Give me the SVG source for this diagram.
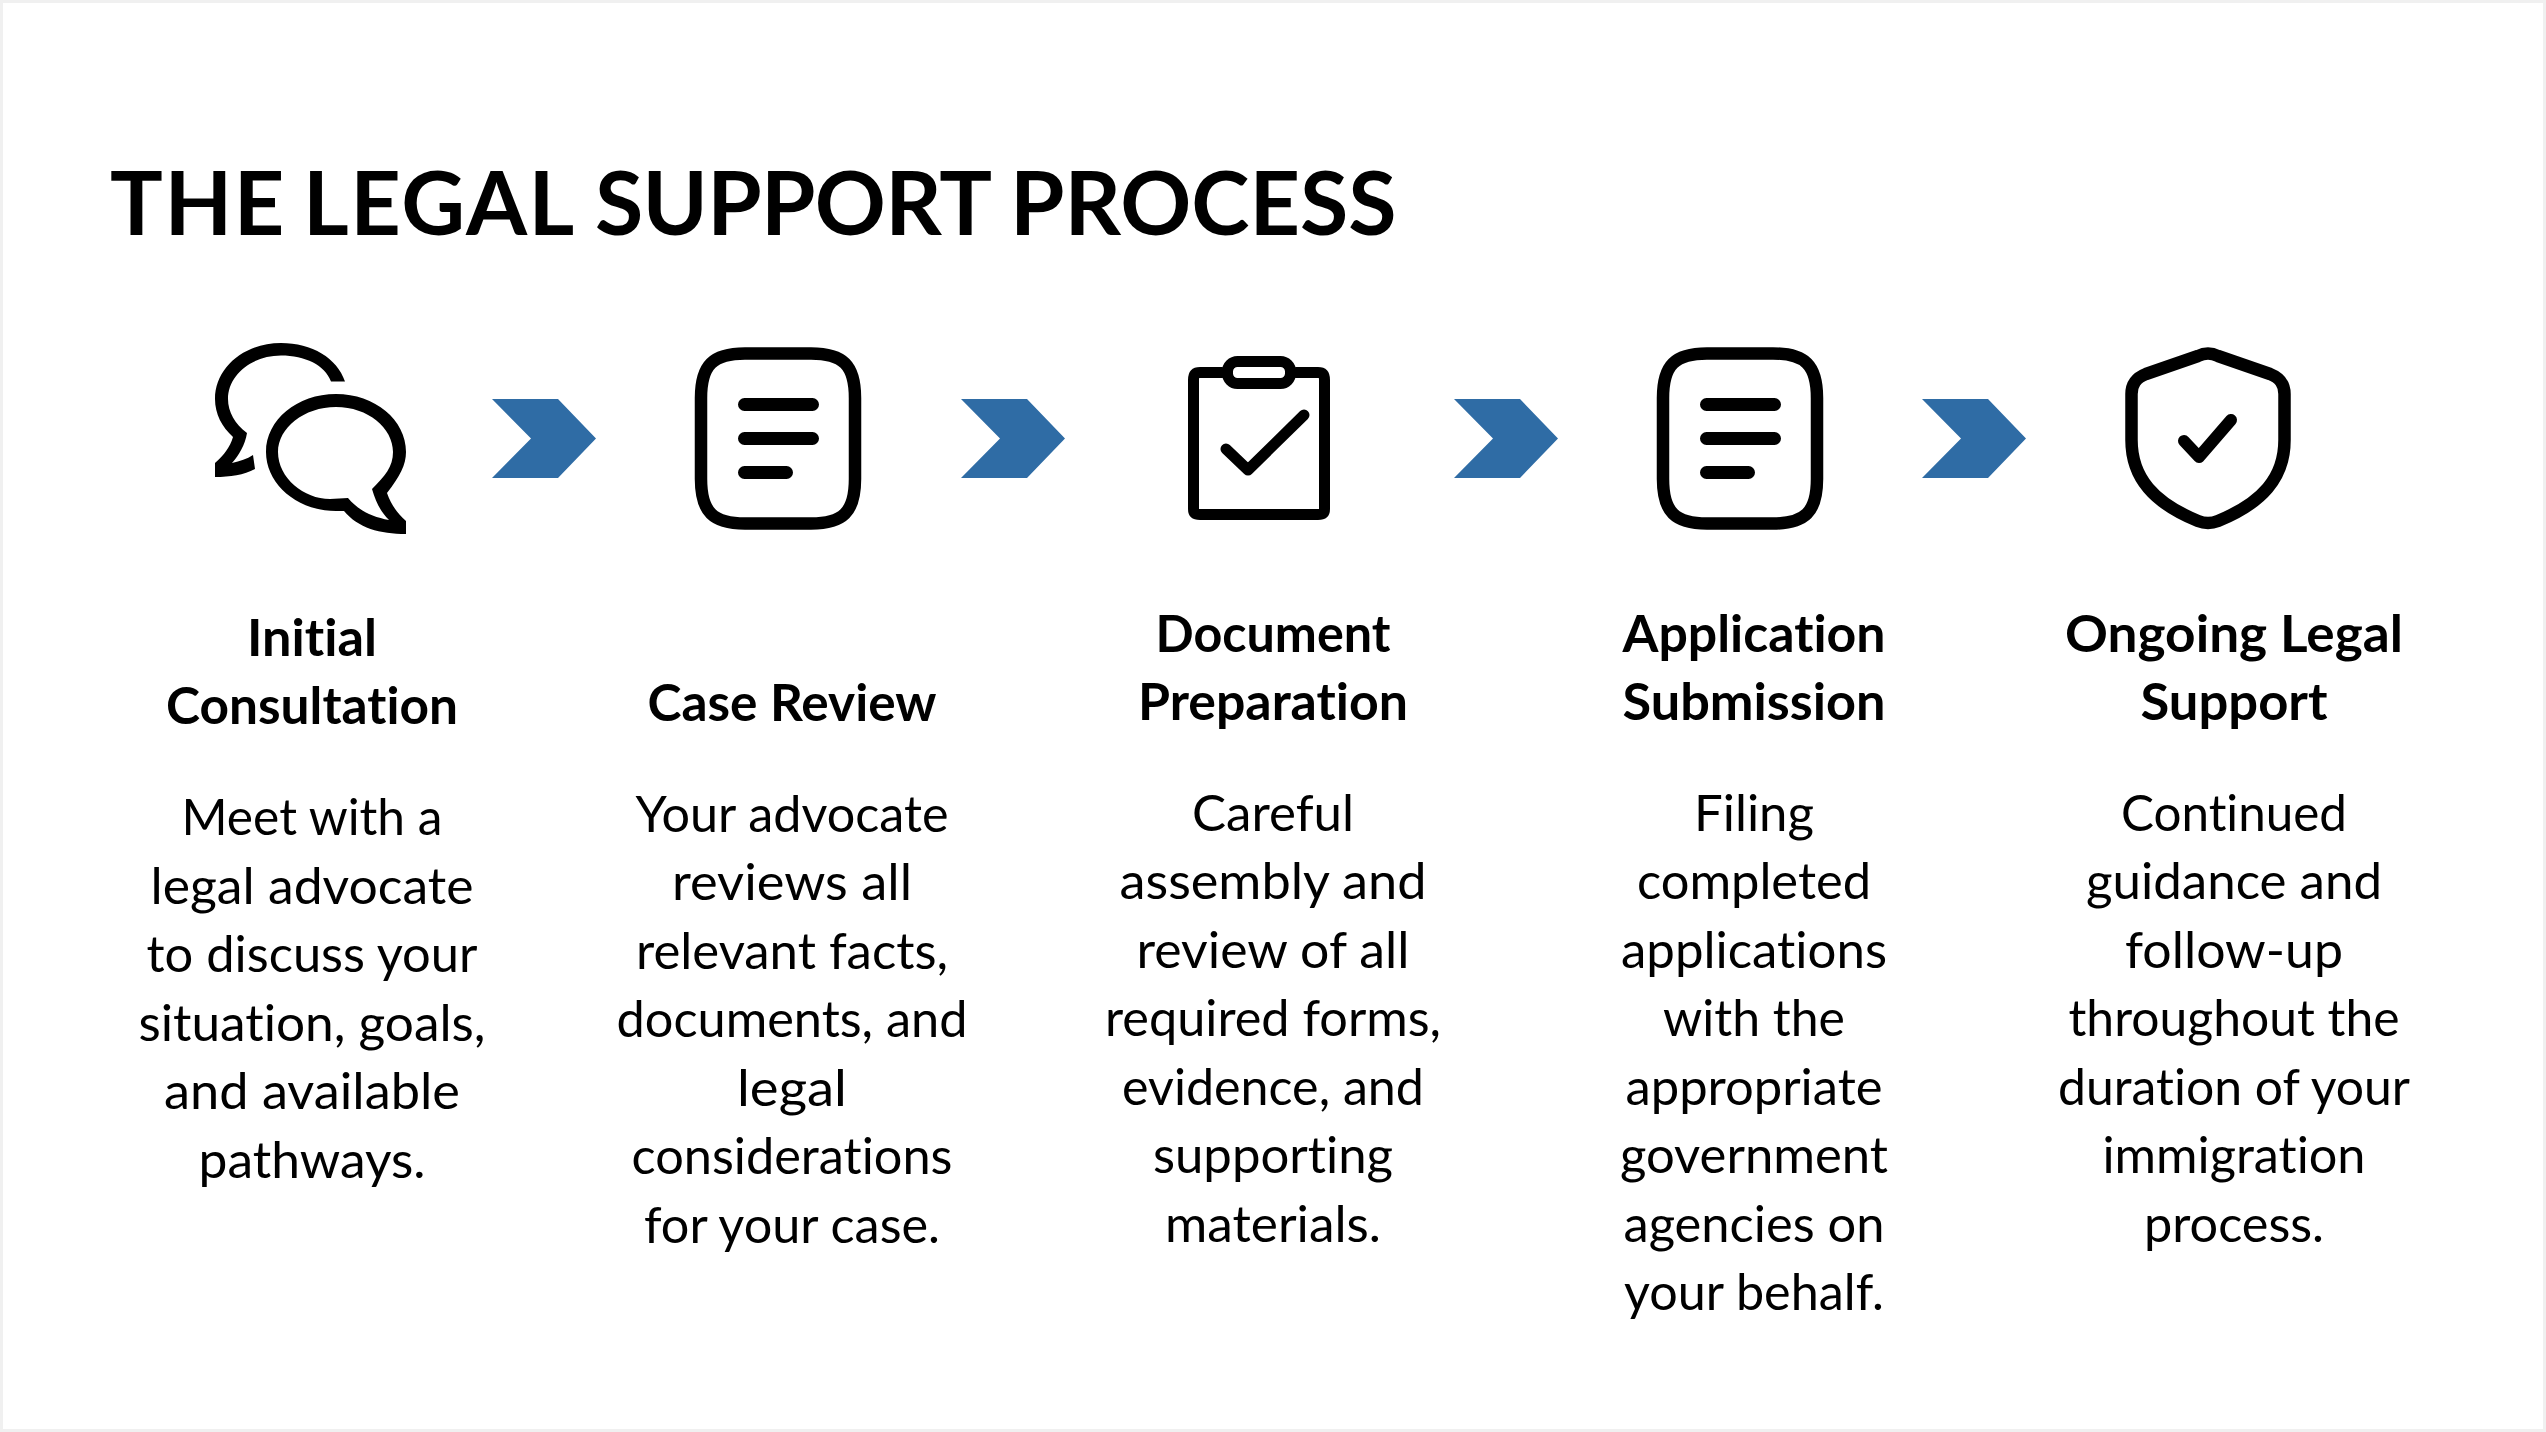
<svg xmlns="http://www.w3.org/2000/svg" width="2546" height="1432" viewBox="0 0 2546 1432">
<style>
text{font-family:"Lato","Liberation Sans",sans-serif;fill:#000;text-anchor:middle;font-variant-ligatures:none}
.t{font-size:88px;font-weight:700;text-anchor:start}
.h{font-size:51px;font-weight:700;transform:translateY(1px)}
.b{font-size:50px;font-weight:400;transform:translateY(1px)}
.c{fill:#2f6ca5}
.k{fill:none;stroke:#000;stroke-linecap:round;stroke-linejoin:round}
</style>
<defs>
<polygon id="chev" class="c" points="0,0 66,0 104,39.5 66,79 0,79 39,39.5"/>
<g id="note">
<path class="k" stroke-width="12.5" d="M745,353.5H811C843,353.5 855,365 855,398V479C855,512 843,523.5 811,523.5H745C713,523.5 701,512 701,479V398C701,365 713,353.5 745,353.5Z"/>
<path class="k" stroke-width="13" d="M744.500,404.500H812.500M744.500,438.500H812.500M744.500,472.500H786.500"/>
</g>
</defs>
<rect width="2546" height="1432" fill="#f0f0f0"/>
<rect x="3" y="3" width="2540" height="1426" fill="#fff"/>
<text class="t" y="234.500"><tspan x="110" letter-spacing="1.600" word-spacing="-6">THE LEGAL</tspan> <tspan x="595" letter-spacing="-0.700">SUPPORT</tspan> <tspan x="1010">PROCESS</tspan></text>
<g id="connectors">
<use href="#chev" x="492" y="399"/>
<use href="#chev" x="961" y="399"/>
<use href="#chev" x="1454" y="399"/>
<use href="#chev" x="1922" y="399"/>
</g>
<g id="step1">
<path fill="#000" fill-rule="evenodd" d="M387,493C400,476 406,465 406,452C406,420 375,394 336,394C297,394 266,420 266,452C266,484 297,511 336,511L344,511C358,528 380,534 406,534V521C396,512 391,504 387,493ZM372,489C385,476 393,467 393,452C393,428 368,407 336,407C304,407 278,428 278,452C278,478 304,499 330,499L348,498C358,510 372,517 389,520C381,512 376,503 372,489Z"/>
<path fill="#000" d="M345,381.500C337,358 312,343 281,343C244,343 215,368 215,399C215,414 222,427 233,437C230,447 224,455 215,463V477C230,477 244,475 255,469L253,455C247,459 240,461 232,463C239,455 245,445 247,433C235,424 228,412 228,399C228,375 252,355.500 281,355.500C305,355.500 325,365 331,381.500Z"/>
<text class="h" x="312" y="655" textLength="130" lengthAdjust="spacingAndGlyphs">Initial</text>
<text class="h" x="312" y="723" textLength="292" lengthAdjust="spacingAndGlyphs">Consultation</text>
<text class="b" x="312" y="834" textLength="261" lengthAdjust="spacingAndGlyphs">Meet with a</text>
<text class="b" x="312" y="903" textLength="323" lengthAdjust="spacingAndGlyphs">legal advocate</text>
<text class="b" x="312" y="971" textLength="331" lengthAdjust="spacingAndGlyphs">to discuss your</text>
<text class="b" x="312" y="1040" textLength="347" lengthAdjust="spacingAndGlyphs">situation, goals,</text>
<text class="b" x="312" y="1108" textLength="296" lengthAdjust="spacingAndGlyphs">and available</text>
<text class="b" x="312" y="1177" textLength="227" lengthAdjust="spacingAndGlyphs">pathways.</text>
</g>
<g id="step2">
<use href="#note"/>
<text class="h" x="792" y="720" textLength="289" lengthAdjust="spacingAndGlyphs">Case Review</text>
<text class="b" x="792" y="831" textLength="313" lengthAdjust="spacingAndGlyphs">Your advocate</text>
<text class="b" x="792" y="899" textLength="240" lengthAdjust="spacingAndGlyphs">reviews all</text>
<text class="b" x="792" y="968" textLength="312" lengthAdjust="spacingAndGlyphs">relevant facts,</text>
<text class="b" x="792" y="1036" textLength="351" lengthAdjust="spacingAndGlyphs">documents, and</text>
<text class="b" x="792" y="1105" textLength="110" lengthAdjust="spacingAndGlyphs">legal</text>
<text class="b" x="792" y="1173" textLength="321" lengthAdjust="spacingAndGlyphs">considerations</text>
<text class="b" x="792" y="1242" textLength="296" lengthAdjust="spacingAndGlyphs">for your case.</text>
</g>
<g id="step3">
<path class="k" stroke-width="11" d="M1222,372.500H1200C1195,372.500 1193.500,375 1193.500,380V509C1193.500,513 1195,514.500 1200,514.500H1318C1323,514.500 1324.500,513 1324.500,509V380C1324.500,375 1323,372.500 1318,372.500H1296"/>
<rect x="1227.500" y="361.500" width="63" height="22" rx="10" fill="#fff" stroke="#000" stroke-width="11"/>
<path class="k" stroke-width="11" d="M1226,449L1248,470L1304,415"/>
<text class="h" x="1273" y="651" textLength="235" lengthAdjust="spacingAndGlyphs">Document</text>
<text class="h" x="1273" y="719" textLength="270" lengthAdjust="spacingAndGlyphs">Preparation</text>
<text class="b" x="1273" y="830" textLength="162" lengthAdjust="spacingAndGlyphs">Careful</text>
<text class="b" x="1273" y="898" textLength="307" lengthAdjust="spacingAndGlyphs">assembly and</text>
<text class="b" x="1273" y="967" textLength="273" lengthAdjust="spacingAndGlyphs">review of all</text>
<text class="b" x="1273" y="1035" textLength="336" lengthAdjust="spacingAndGlyphs">required forms,</text>
<text class="b" x="1273" y="1104" textLength="302" lengthAdjust="spacingAndGlyphs">evidence, and</text>
<text class="b" x="1273" y="1172" textLength="240" lengthAdjust="spacingAndGlyphs">supporting</text>
<text class="b" x="1273" y="1241" textLength="216" lengthAdjust="spacingAndGlyphs">materials.</text>
</g>
<g id="step4">
<use href="#note" x="962"/>
<text class="h" x="1754" y="651" textLength="263" lengthAdjust="spacingAndGlyphs">Application</text>
<text class="h" x="1754" y="719" textLength="263" lengthAdjust="spacingAndGlyphs">Submission</text>
<text class="b" x="1754" y="830" textLength="120" lengthAdjust="spacingAndGlyphs">Filing</text>
<text class="b" x="1754" y="898" textLength="234" lengthAdjust="spacingAndGlyphs">completed</text>
<text class="b" x="1754" y="967" textLength="266" lengthAdjust="spacingAndGlyphs">applications</text>
<text class="b" x="1754" y="1035" textLength="182" lengthAdjust="spacingAndGlyphs">with the</text>
<text class="b" x="1754" y="1104" textLength="257" lengthAdjust="spacingAndGlyphs">appropriate</text>
<text class="b" x="1754" y="1172" textLength="268" lengthAdjust="spacingAndGlyphs">government</text>
<text class="b" x="1754" y="1241" textLength="261" lengthAdjust="spacingAndGlyphs">agencies on</text>
<text class="b" x="1754" y="1309" textLength="260" lengthAdjust="spacingAndGlyphs">your behalf.</text>
</g>
<g id="step5">
<path class="k" stroke-width="12.500" d="M2198,356Q2208,351 2218,356L2270,374C2280,378 2284.500,384 2284.500,394V440C2284.500,478 2262,503 2218,521Q2208,525 2198,521C2154,503 2131.500,478 2131.500,440V394C2131.500,384 2136,378 2146,374Z"/>
<path class="k" stroke-width="12" d="M2184,441L2199,457L2231,420"/>
<text class="h" x="2234" y="651" textLength="338" lengthAdjust="spacingAndGlyphs">Ongoing Legal</text>
<text class="h" x="2234" y="719" textLength="187" lengthAdjust="spacingAndGlyphs">Support</text>
<text class="b" x="2234" y="830" textLength="226" lengthAdjust="spacingAndGlyphs">Continued</text>
<text class="b" x="2234" y="898" textLength="296" lengthAdjust="spacingAndGlyphs">guidance and</text>
<text class="b" x="2234" y="967" textLength="218" lengthAdjust="spacingAndGlyphs">follow-up</text>
<text class="b" x="2234" y="1035" textLength="331" lengthAdjust="spacingAndGlyphs">throughout the</text>
<text class="b" x="2234" y="1104" textLength="352" lengthAdjust="spacingAndGlyphs">duration of your</text>
<text class="b" x="2234" y="1172" textLength="263" lengthAdjust="spacingAndGlyphs">immigration</text>
<text class="b" x="2234" y="1241" textLength="180" lengthAdjust="spacingAndGlyphs">process.</text>
</g>
</svg>
